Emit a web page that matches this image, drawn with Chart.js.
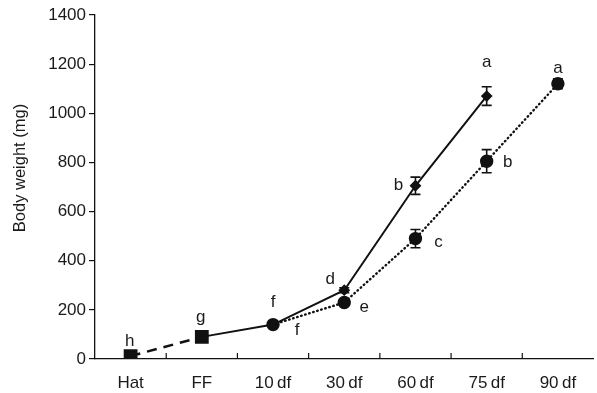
<!DOCTYPE html>
<html>
<head>
<meta charset="utf-8">
<script src="https://cdn.jsdelivr.net/npm/chart.js@4.4.0/dist/chart.umd.min.js"></script>
<style>
  html, body { margin: 0; padding: 0; background: #fff; overflow: hidden; }
  #wrap { width: 604px; height: 393px; }
</style>
</head>
<body>
<div id="wrap"><canvas id="growth-chart" width="604" height="393"></canvas></div>
<script>
// Categories (age)
const stages = ['Hat', 'FF', '10\u2009df', '30\u2009df', '60\u2009df', '75\u2009df', '90\u2009df'];

// Series values (mg)
const earlyWeight = [12, 90, null, null, null, null, null];
const solidWeight = [null, 90, 140, 280, 705, 1070, null];
const dottedWeight = [null, null, 140, 230, 490, 805, 1120];

// Standard errors
const solidErr = [0, 0, 0, 10, 35, 38, 0];
const dottedErr = [0, 0, 0, 0, 37, 47, 20];

// Significance letters
const earlyLetters = ['h', 'g', '', '', '', '', ''];
const solidLetters = ['', '', 'f', 'd', 'b', 'a', ''];
const dottedLetters = ['', '', 'f', 'e', 'c', 'b', 'a'];

// Y axis ticks
const yTicks = [0, 200, 400, 600, 800, 1000, 1200, 1400];
const yTitle = 'Body weight (mg)';

const FONT = '"Liberation Sans", Arial, Helvetica, sans-serif';

// letter offsets (px) relative to each point
const letterOffsets = {
    early: [[-1, -15], [-1, -20]],
    solid: { 2: [0, -22], 3: [-14, -11], 4: [-17, 0], 5: [0, -34] },
    dotted: { 2: [24, 6], 3: [20, 5], 4: [23, 4], 5: [21, 1], 6: [0, -15] }
};

const extrasPlugin = {
    id: 'extras',
    afterDatasetsDraw(chart) {
        const ctx = chart.ctx;
        const x = chart.scales.x;
        const y = chart.scales.y;
        ctx.save();
        ctx.strokeStyle = '#111';
        ctx.fillStyle = '#1a1a1a';

        // inward x ticks at category boundaries
        ctx.lineWidth = 1.2;
        for (let i = 1; i < stages.length; i++) {
            const px = (x.getPixelForValue(i - 1) + x.getPixelForValue(i)) / 2;
            ctx.beginPath();
            ctx.moveTo(px, y.bottom);
            ctx.lineTo(px, y.bottom - 6);
            ctx.stroke();
        }

        // error bars
        const drawErr = (vals, errs) => {
            vals.forEach((v, i) => {
                if (v === null || !errs[i]) return;
                const px = x.getPixelForValue(i);
                const top = y.getPixelForValue(v + errs[i]);
                const bot = y.getPixelForValue(v - errs[i]);
                ctx.lineWidth = 1.6;
                ctx.beginPath();
                ctx.moveTo(px, top); ctx.lineTo(px, bot);
                ctx.moveTo(px - 5, top); ctx.lineTo(px + 5, top);
                ctx.moveTo(px - 5, bot); ctx.lineTo(px + 5, bot);
                ctx.stroke();
            });
        };
        drawErr(solidWeight, solidErr);
        drawErr(dottedWeight, dottedErr);

        // letters
        ctx.font = '17px ' + FONT;
        ctx.textAlign = 'center';
        ctx.textBaseline = 'middle';
        const drawLetters = (vals, letters, offs) => {
            letters.forEach((l, i) => {
                if (!l || vals[i] === null) return;
                const o = offs[i] || [0, -15];
                ctx.fillText(l, x.getPixelForValue(i) + o[0], y.getPixelForValue(vals[i]) + o[1]);
            });
        };
        drawLetters(earlyWeight, earlyLetters, letterOffsets.early);
        drawLetters(solidWeight, solidLetters, letterOffsets.solid);
        drawLetters(dottedWeight, dottedLetters, letterOffsets.dotted);

        // y axis title (sits a bit above the axis centre in the original)
        ctx.translate(20, 168);
        ctx.rotate(-Math.PI / 2);
        ctx.font = '16.5px ' + FONT;
        ctx.fillText(yTitle, 0, 0);
        ctx.restore();
    }
};

const ctx = document.getElementById('growth-chart').getContext('2d');
new Chart(ctx, {
    type: 'line',
    data: {
        labels: stages,
        datasets: [
            {
                data: earlyWeight,
                borderColor: '#111',
                backgroundColor: '#111',
                borderWidth: 2.5,
                borderDash: [10, 7],
                pointStyle: 'rect',
                pointRadius: 8,
                order: 1
            },
            {
                data: solidWeight,
                borderColor: '#111',
                backgroundColor: '#111',
                borderWidth: 2,
                pointStyle: 'rectRot',
                pointRadius: [0, 0, 0, 4.5, 4.5, 4.5, 0],
                order: 2
            },
            {
                data: dottedWeight,
                borderColor: '#111',
                backgroundColor: '#111',
                borderWidth: 2.4,
                borderCapStyle: 'round',
                borderDash: [0.6, 3.6],
                pointStyle: 'circle',
                pointRadius: 5.5,
                order: 3
            }
        ]
    },
    options: {
        responsive: false,
        animation: false,
        spanGaps: false,
        layout: { padding: { top: 15, right: 3, left: 0, bottom: 0 } },
        plugins: {
            legend: { display: false },
            tooltip: { enabled: false }
        },
        scales: {
            x: {
                offset: true,
                grid: { display: false },
                border: { display: true, color: '#111', width: 1.3 },
                ticks: {
                    color: '#1a1a1a',
                    padding: 6,
                    font: { size: 17, family: FONT }
                },
                afterFit(scale) { scale.height = 34; }
            },
            y: {
                min: 0,
                max: 1400,
                afterBuildTicks(scale) { scale.ticks = yTicks.map(v => ({ value: v })); },
                grid: { drawOnChartArea: false, tickLength: 6, color: '#111', lineWidth: 1.2 },
                border: { display: true, color: '#111', width: 1.3 },
                ticks: {
                    color: '#1a1a1a',
                    padding: 3,
                    font: { size: 17, family: FONT },
                    callback: v => String(v)
                },
                title: { display: false },
                afterFit(scale) { scale.width = 95; }
            }
        }
    },
    plugins: [extrasPlugin]
});
</script>
</body>
</html>
